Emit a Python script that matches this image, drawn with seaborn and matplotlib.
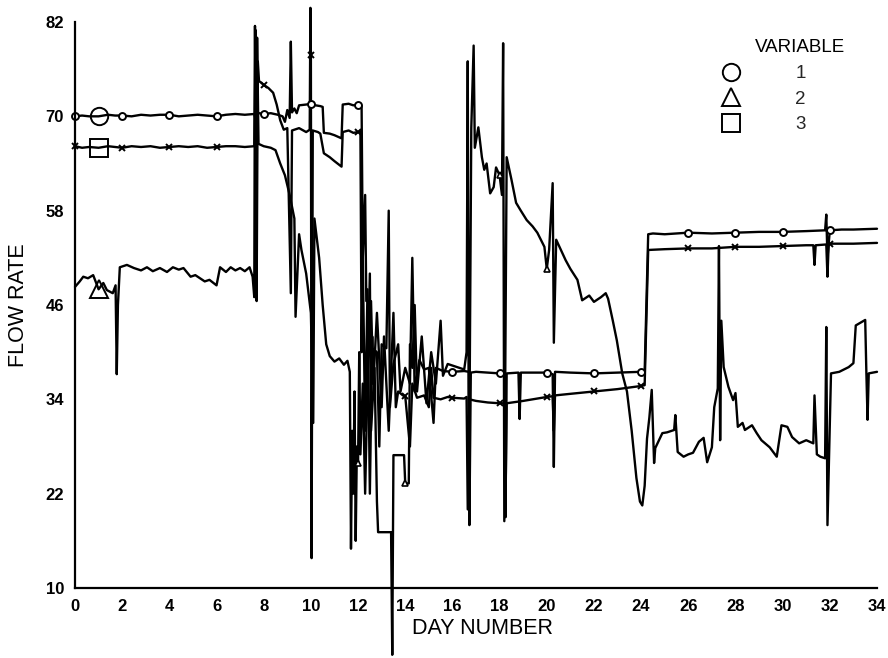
import numpy as np
import pandas as pd
import matplotlib
matplotlib.use("Agg")
import matplotlib.pyplot as plt
import seaborn as sns
from matplotlib.lines import Line2D

# ---------------- data ----------------
day1 = [0, 0.3, 0.6, 1, 1.4, 1.7, 2, 2.4, 2.8, 3.2,
        3.6, 4, 4.4, 4.8, 5.2, 5.6, 6, 6.4, 6.8, 7.2,
        7.6, 7.7, 7.75, 7.8, 8, 8.3, 8.6, 8.8, 8.9, 9.0,
        9.1, 9.15, 9.2, 9.3, 9.4, 9.5, 9.8, 10, 10.2, 10.4,
        10.5, 10.55, 10.8, 11.0, 11.3, 11.35, 11.6, 11.8, 12, 12.1,
        12.15, 12.2, 12.3, 12.35, 12.55, 12.6, 12.8, 12.9, 13.0, 13.2,
        13.3, 13.35, 13.5, 13.7, 13.8, 14, 14.2, 14.3, 14.4, 14.6,
        14.8, 15.0, 15.2, 15.3, 15.6, 16, 16.5, 16.7, 16.72, 16.78,
        17, 17.5, 18, 18.2, 18.25, 18.3, 18.8, 18.85, 18.9, 19.5,
        20, 20.25, 20.3, 20.35, 21, 22, 23, 24, 24.15, 24.3,
        24.5, 25, 26, 27, 28, 29, 30, 31, 31.8, 31.85,
        31.9, 32, 32.5, 33, 34]
flow1 = [70.0, 70.1, 70.0, 70.0, 70.2, 70.1, 70.1, 70.0, 70.2, 70.1,
         70.2, 70.2, 70.0, 70.1, 70.2, 70.1, 70.0, 70.2, 70.3, 70.2,
         70.3, 69.0, 70.5, 70.4, 70.3, 70.4, 70.2, 70.0, 69.3, 70.8,
         69.8, 79.5, 70.5, 71.0, 70.4, 71.4, 71.5, 71.6, 71.4, 71.3,
         71.2, 67.9, 67.8, 67.6, 67.2, 71.5, 71.6, 71.4, 71.5, 71.5,
         71.3, 52.0, 60.0, 46.5, 46.5, 40.5, 40.0, 28.0, 41.0, 40.5,
         58.0, 33.0, 38.5, 41.0, 35.0, 38.0, 36.0, 52.0, 35.0, 39.0,
         37.8, 38.0, 31.0, 38.0, 37.6, 37.5, 37.6, 37.5, 18.0, 37.4,
         37.5, 37.4, 37.3, 37.3, 19.0, 37.3, 37.4, 31.5, 37.4, 37.4,
         37.4, 37.2, 25.4, 37.5, 37.4, 37.3, 37.4, 37.5, 37.5, 55.0,
         55.1, 55.0, 55.2, 55.1, 55.2, 55.3, 55.3, 55.4, 55.5, 57.5,
         52.0, 55.5, 55.6, 55.6, 55.7]

day2 = [0, 0.2, 0.35, 0.55, 0.77, 1, 1.2, 1.35, 1.6, 1.72,
        1.77, 1.82, 1.9, 2.2, 2.5, 2.8, 3.05, 3.3, 3.6, 3.9,
        4.15, 4.4, 4.6, 4.9, 5.1, 5.3, 5.5, 5.7, 6.0, 6.15,
        6.4, 6.6, 6.8, 7.0, 7.2, 7.4, 7.53, 7.6, 7.63, 7.67,
        7.72, 7.78, 8.0, 8.3, 8.5, 8.7, 8.9, 9.1, 9.2, 9.3,
        9.35, 9.5, 9.6, 9.8, 10.0, 10.1, 10.15, 10.35, 10.5, 10.65,
        10.8, 11.0, 11.2, 11.4, 11.55, 11.65, 11.7, 11.75, 11.8, 11.85,
        11.9, 11.95, 12.0, 12.05, 12.1, 12.2, 12.3, 12.5, 12.55, 12.7,
        12.8, 12.85, 13.4, 13.45, 13.5, 13.95, 14.0, 14.15, 14.2, 14.3,
        14.4, 14.5, 14.7, 14.9, 15.1, 15.3, 15.5, 15.6, 15.8, 16.0,
        16.3, 16.5, 16.6, 16.65, 16.7, 16.8, 16.9, 16.95, 17.1, 17.25,
        17.35, 17.45, 17.6, 17.75, 17.85, 18.0, 18.1, 18.15, 18.2, 18.3,
        18.5, 18.7, 18.9, 19.15, 19.4, 19.6, 19.9, 20.0, 20.1, 20.25,
        20.3, 20.4, 20.6, 20.8, 21.0, 21.3, 21.5, 21.8, 22.0, 22.3,
        22.5, 22.6, 22.8, 22.97, 23.2, 23.4, 23.6, 23.8, 23.95, 24.05,
        24.15, 24.25, 24.35, 24.45, 24.55, 24.6, 24.9, 25.1, 25.4, 25.45,
        25.55, 25.8, 26.0, 26.2, 26.45, 26.65, 26.8, 27.0, 27.1, 27.25,
        27.3, 27.35, 27.4, 27.5, 27.7, 27.9, 28.0, 28.1, 28.3, 28.4,
        28.7, 28.9, 29.1, 29.45, 29.75, 29.95, 30.2, 30.4, 30.7, 31.0,
        31.3, 31.35, 31.45, 31.6, 31.8, 31.85, 31.9, 32.0, 32.05, 32.4,
        32.8, 33.0, 33.1, 33.5, 33.55, 33.6, 33.65, 34.0]
flow2 = [48.3, 49.0, 49.6, 49.4, 49.8, 48.0, 48.8, 47.9, 47.5, 48.5,
         37.2, 46.0, 50.8, 51.1, 50.7, 50.4, 50.8, 50.3, 50.7, 50.2,
         50.8, 50.5, 50.7, 49.6, 49.8, 49.4, 49.0, 49.2, 48.5, 50.8,
         50.2, 50.8, 50.4, 50.7, 50.3, 50.8, 49.6, 47.0, 81.5, 48.0,
         80.0, 66.5, 66.2, 66.0, 65.7, 64.0, 62.5, 60.0, 58.5, 57.0,
         44.5, 55.0, 53.0, 50.0, 45.0, 31.0, 57.0, 52.0, 46.0, 41.0,
         39.5, 38.8, 39.2, 38.4, 38.9, 37.5, 15.0, 30.0, 22.0, 35.0,
         16.0, 28.0, 25.9, 40.0, 27.0, 36.0, 22.0, 50.0, 30.0, 38.0,
         21.0, 17.1, 17.1, 1.5, 26.9, 26.9, 23.3, 23.3, 41.0, 38.0,
         46.0, 35.0, 42.0, 33.5, 40.0, 36.0, 44.0, 37.0, 38.5, 38.3,
         38.0, 37.8, 40.0, 77.0, 20.0, 68.5, 79.0, 66.0, 68.6, 64.8,
         63.2, 64.0, 60.2, 61.0, 63.5, 62.5, 60.0, 79.3, 18.5, 64.8,
         62.0, 59.0, 58.0, 56.8, 56.0, 55.2, 53.4, 50.6, 53.0, 61.5,
         41.2, 54.3, 53.0, 51.7, 50.6, 49.2, 46.6, 47.2, 46.4, 47.0,
         47.5, 46.8, 44.0, 41.5, 37.3, 35.0, 30.0, 24.0, 21.0, 20.5,
         23.0, 29.0, 31.7, 35.2, 25.9, 27.8, 29.7, 29.8, 30.1, 32.0,
         27.3, 26.7, 27.0, 27.2, 28.6, 29.1, 26.0, 27.9, 33.0, 35.4,
         53.5, 28.8, 44.0, 38.1, 35.6, 33.9, 34.8, 30.5, 31.0, 30.1,
         30.7, 29.7, 28.8, 27.9, 26.7, 30.7, 30.5, 29.2, 28.4, 28.8,
         28.4, 34.5, 27.0, 26.7, 26.5, 43.2, 18.0, 30.5, 37.3, 37.5,
         38.1, 38.6, 43.4, 44.1, 37.3, 31.4, 37.3, 37.5]

day3 = [0, 0.3, 0.6, 1, 1.4, 1.7, 2, 2.4, 2.8, 3.2,
        3.6, 4, 4.4, 4.8, 5.2, 5.6, 6, 6.4, 6.8, 7.2,
        7.6, 7.65, 7.7, 7.75, 7.8, 8, 8.2, 8.4, 8.55, 8.7,
        8.85, 9.0, 9.15, 9.2, 9.5, 9.8, 9.95, 9.98, 10, 10.03,
        10.08, 10.3, 10.4, 10.55, 10.8, 11.0, 11.3, 11.35, 11.6, 11.8,
        12, 12.1, 12.15, 12.2, 12.3, 12.4, 12.5, 12.6, 12.65, 12.8,
        13.0, 13.1, 13.3, 13.5, 13.6, 13.7, 13.9, 14, 14.2, 14.3,
        14.5, 14.8, 15.0, 15.1, 15.2, 15.5, 15.8, 16, 16.5, 16.6,
        16.65, 16.72, 17, 17.5, 18, 18.2, 18.25, 18.3, 19, 20,
        20.25, 20.3, 20.35, 21, 22, 23, 24, 24.15, 24.3, 25,
        26, 27, 28, 29, 30, 31, 31.3, 31.35, 31.4, 31.85,
        31.9, 31.95, 32, 33, 34]
flow3 = [66.2, 66.0, 66.1, 66.0, 66.2, 66.1, 66.0, 66.2, 66.1, 66.2,
         66.0, 66.1, 66.2, 66.1, 66.2, 66.0, 66.1, 66.2, 66.2, 66.1,
         66.2, 81.0, 46.5, 77.0, 74.5, 74.0, 73.6, 73.0, 71.5, 69.5,
         68.3, 68.5, 47.5, 68.2, 68.5, 68.0, 68.3, 83.8, 77.8, 13.8,
         68.2, 68.0, 67.8, 65.3, 64.8, 64.3, 63.6, 68.0, 68.2, 67.9,
         68.0, 68.1, 40.0, 52.0, 30.0, 48.0, 22.0, 42.0, 36.0, 45.0,
         33.0, 42.0, 30.0, 45.0, 33.0, 35.0, 34.5, 34.4, 28.0, 36.0,
         34.2, 34.5, 33.0, 38.0, 34.2, 34.0, 34.3, 34.2, 34.1, 34.3,
         20.0, 34.0, 33.8, 33.6, 33.5, 33.5, 20.0, 33.5, 33.8, 34.3,
         34.4, 30.0, 34.5, 34.7, 35.0, 35.3, 35.7, 35.8, 53.0, 53.1,
         53.2, 53.2, 53.4, 53.4, 53.5, 53.6, 53.6, 51.1, 53.6, 53.7,
         49.6, 53.7, 53.8, 53.8, 53.9]

mark_days1 = [0, 2, 4, 6, 8, 10, 12, 16, 18, 20, 22, 24, 26, 28, 30, 32]
mark_days2 = [12, 14, 18, 20]
mark_days3 = [0, 2, 4, 6, 8, 10, 12, 14, 16, 18, 20, 22, 24, 26, 28, 30, 32]
label_day = 1

x_ticks = list(range(0, 35, 2))
y_ticks = [10, 22, 34, 46, 58, 70, 82]
variables = ["1", "2", "3"]
symbols = ["o", "^", "s"]

# ---------------- figure ----------------
sns.set_theme(style="white")
plt.rcParams["font.family"] = ["Liberation Sans", "DejaVu Sans"]

fig = plt.figure(figsize=(8.88, 6.58), dpi=100)
fig.patch.set_facecolor("white")
ax = fig.add_axes([75 / 888, 1 - 588 / 658, (877 - 75) / 888, (588 - 22) / 658])

frames = []
for name, d, v in zip(variables, [day1, day2, day3], [flow1, flow2, flow3]):
    frames.append(pd.DataFrame({"day": d, "flow": v, "variable": name}))
df = pd.concat(frames, ignore_index=True)

sns.lineplot(data=df, x="day", y="flow", hue="variable", estimator=None, sort=False,
             palette={k: "black" for k in variables}, legend=False,
             linewidth=1.7, ax=ax, clip_on=False)

s1 = df[df.variable == "1"]
s2 = df[df.variable == "2"]
s3 = df[df.variable == "3"]

m = s1[s1.day.isin(mark_days1)]
ax.plot(m.day, m.flow, ls="none", marker="o", ms=5, mfc="white", mec="black", mew=1.4, clip_on=False)
m = s2[s2.day.isin(mark_days2)]
ax.plot(m.day, m.flow, ls="none", marker="^", ms=5, mfc="white", mec="black", mew=1.2, clip_on=False)
m = s3[s3.day.isin(mark_days3)]
ax.plot(m.day, m.flow, ls="none", marker="x", ms=5, mec="black", mew=1.4, clip_on=False)

# big identifying symbols on each curve
for sub, sym in zip([s1, s2, s3], symbols):
    m = sub[sub.day == label_day]
    ax.plot(m.day, m.flow, ls="none", marker=sym, ms=12.5, mfc="none", mec="black", mew=1.4,
            clip_on=False, zorder=5)

ax.set_xlim(0, 34)
ax.set_ylim(10, 82)
ax.set_xticks(x_ticks)
ax.set_yticks(y_ticks)
ax.tick_params(direction="inout", length=11, width=1.6, colors="black", labelsize=12, pad=2.5)
for lab in ax.get_xticklabels() + ax.get_yticklabels():
    lab.set_fontweight("bold")

for side in ["top", "right"]:
    ax.spines[side].set_visible(False)
for side in ["left", "bottom"]:
    ax.spines[side].set_color("black")
    ax.spines[side].set_linewidth(1.6)
ax.grid(False)

ax.set_xlabel("DAY NUMBER", fontsize=15.5, color="black")
ax.set_ylabel("FLOW RATE", fontsize=15.5, color="black")
ax.xaxis.set_label_coords((482 - 75) / 802, (588 - 618) / 566)
ax.yaxis.set_label_coords((29 - 75) / 802, 0.5)

# legend
ax.text((800 - 75) / 802, (588 - 48) / 566, "VARIABLE", transform=ax.transAxes,
        ha="center", va="center", fontsize=13.5, color="black")
handles = [Line2D([], [], ls="none", marker=s, ms=12.5, mfc="none", mec="black", mew=1.4)
           for s in symbols]
ax.legend(handles, variables, loc="upper left", bbox_to_anchor=((722 - 75) / 802, (588 - 65) / 566),
          frameon=False, handlelength=1.0, handletextpad=2.9, labelspacing=0.45,
          fontsize=13.5, borderpad=0, borderaxespad=0)

fig.savefig("out.png", dpi=100, facecolor="white")
